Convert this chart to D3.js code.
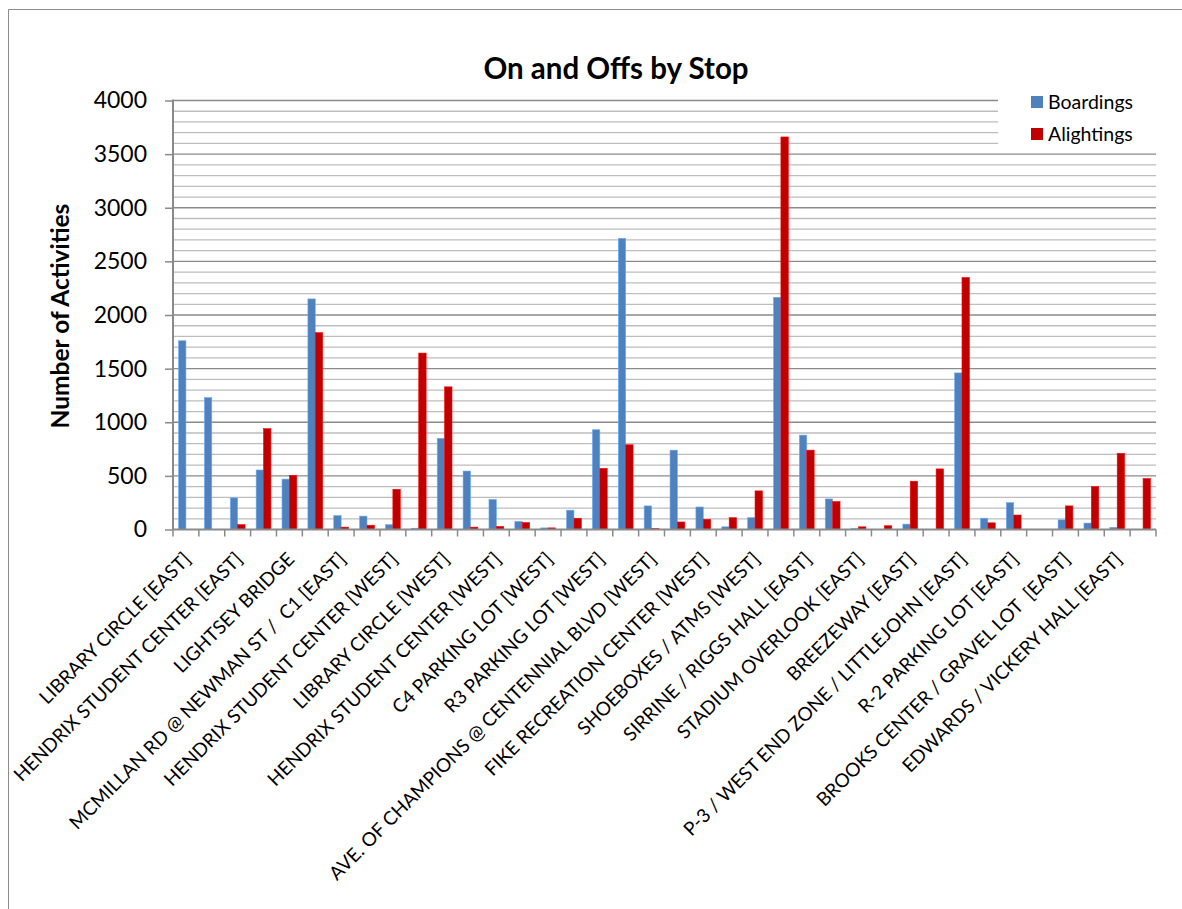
<!DOCTYPE html>
<html>
<head>
<meta charset="utf-8">
<script src="https://cdn.jsdelivr.net/npm/d3@7"></script>
<style>
  html, body { margin: 0; padding: 0; background: #fff; }
  svg { display: block; font-family: Lato, "Open Sans", sans-serif; }
  text { white-space: pre; }
</style>
</head>
<body>
<svg id="chart" width="1182" height="909"></svg>
<script>
// Stops along the route; only every other stop gets an axis label.
const categories = [
  "LIBRARY CIRCLE [EAST]", "",
  "HENDRIX STUDENT CENTER [EAST]", "",
  "LIGHTSEY BRIDGE", "",
  "MCMILLAN RD @ NEWMAN ST /  C1 [EAST]", "",
  "HENDRIX STUDENT CENTER [WEST]", "",
  "LIBRARY CIRCLE [WEST]", "",
  "HENDRIX STUDENT CENTER [WEST]", "",
  "C4 PARKING LOT [WEST]", "",
  "R3 PARKING LOT [WEST]", "",
  "AVE. OF CHAMPIONS @ CENTENNIAL BLVD [WEST]", "",
  "FIKE RECREATION CENTER [WEST]", "",
  "SHOEBOXES / ATMS [WEST]", "",
  "SIRRINE / RIGGS HALL [EAST]", "",
  "STADIUM OVERLOOK [EAST]", "",
  "BREEZEWAY [EAST]", "",
  "P-3 / WEST END ZONE / LITTLEJOHN [EAST]", "",
  "R-2 PARKING LOT [EAST]", "",
  "BROOKS CENTER / GRAVEL LOT  [EAST]", "",
  "EDWARDS / VICKERY HALL [EAST]", ""
];

const boardings = [
  1760, 1230, 295, 555, 470, 2150, 130, 125, 45, 12,
  850, 545, 280, 75, 15, 180, 930, 2715, 220, 740,
  210, 25, 110, 2165, 880, 285, 10, 0, 50, 0,
  1460, 105, 250, 0, 90, 60, 20, 0
];

const alightings = [
  0, 0, 45, 940, 505, 1835, 22, 40, 375, 1645,
  1330, 22, 28, 65, 15, 105, 570, 790, 10, 70,
  95, 110, 360, 3660, 740, 260, 25, 35, 450, 565,
  2350, 62, 135, 0, 220, 400, 710, 475
];

const seriesNames = ["Boardings", "Alightings"];
const seriesColors = ["#4F81BD", "#C00000"];
const yTicks = [0, 500, 1000, 1500, 2000, 2500, 3000, 3500, 4000];

const svg = d3.select("#chart");

const plot = { left: 173, right: 1156, top: 100.5, bottom: 529.5 };

const x0 = d3.scaleBand()
  .domain(d3.range(categories.length))
  .range([plot.left, plot.right])
  .paddingInner(0).paddingOuter(0);

const x1 = d3.scaleBand()
  .domain(seriesNames)
  .range([0, x0.bandwidth()])
  .paddingInner(0).paddingOuter(0.75);

const y = d3.scaleLinear().domain([0, 4000]).range([plot.bottom, plot.top]);

const color = d3.scaleOrdinal().domain(seriesNames).range(seriesColors);

// Outer chart frame
svg.append("path")
  .attr("d", "M8.5,909 V9.5 H1182")
  .attr("fill", "none")
  .attr("stroke", "#8c8c8c")
  .attr("stroke-width", 1);

// Gridlines: minor every 100, major every 500
const grid = svg.append("g");
grid.selectAll("line.minor")
  .data(d3.range(100, 4001, 100).filter(v => v % 500 !== 0))
  .join("line")
  .attr("x1", plot.left).attr("x2", plot.right)
  .attr("y1", d => y(d)).attr("y2", d => y(d))
  .attr("stroke", "#bdbdbd").attr("stroke-width", 1.3);
grid.selectAll("line.major")
  .data(yTicks.filter(v => v > 0))
  .join("line")
  .attr("x1", plot.left).attr("x2", plot.right)
  .attr("y1", d => y(d)).attr("y2", d => y(d))
  .attr("stroke", "#8a8a8a").attr("stroke-width", 1.3);

// Legend panel sits over the gridlines
const legend = svg.append("g");
legend.append("rect")
  .attr("x", 998).attr("y", 86).attr("width", 158).attr("height", 62)
  .attr("fill", "#fff");
seriesNames.forEach((name, i) => {
  const ly = 102 + i * 32;
  legend.append("rect")
    .attr("x", 1031).attr("y", ly - 6).attr("width", 12).attr("height", 12)
    .attr("fill", color(name));
  legend.append("text")
    .attr("x", 1048).attr("y", ly + 6.5)
    .attr("font-size", 19.5)
    .attr("fill", "#000")
    .text(name);
});

// Bars
const rows = categories.map((c, i) => ({ i, values: [boardings[i], alightings[i]] }));
svg.append("g")
  .selectAll("g")
  .data(rows)
  .join("g")
  .attr("transform", d => `translate(${x0(d.i)},0)`)
  .selectAll("rect")
  .data(d => d.values.map((v, k) => ({ name: seriesNames[k], v })))
  .join("rect")
  .attr("x", d => x1(d.name))
  .attr("width", x1.bandwidth())
  .attr("y", d => y(d.v))
  .attr("height", d => y(0) - y(d.v))
  .attr("fill", d => color(d.name))
  .attr("stroke", d => d3.color(color(d.name)).brighter(0.8))
  .attr("stroke-width", 0.6);

// Y axis
const yAxis = svg.append("g")
  .attr("transform", `translate(${plot.left},0)`)
  .call(d3.axisLeft(y).tickValues(yTicks).tickSize(8).tickPadding(18).tickFormat(d3.format("d")));
yAxis.select(".domain").attr("stroke", "#8a8a8a").attr("stroke-width", 2)
  .attr("d", `M0,${plot.bottom}V${plot.top - 1}`);
yAxis.selectAll(".tick line").attr("stroke", "#8a8a8a").attr("stroke-width", 1.5);
yAxis.selectAll(".tick text")
  .attr("font-size", 23).attr("font-family", "Lato, sans-serif").attr("fill", "#000");

// X axis: baseline plus tick marks at band boundaries
const xAxis = svg.append("g");
xAxis.append("line")
  .attr("x1", plot.left).attr("x2", plot.right)
  .attr("y1", y(0)).attr("y2", y(0))
  .attr("stroke", "#8a8a8a").attr("stroke-width", 2);
xAxis.selectAll("line.tick")
  .data(d3.range(categories.length + 1))
  .join("line")
  .attr("x1", i => i < categories.length ? x0(i) : plot.right)
  .attr("x2", i => i < categories.length ? x0(i) : plot.right)
  .attr("y1", y(0)).attr("y2", y(0) + 7)
  .attr("stroke", "#8a8a8a").attr("stroke-width", 1.5);

xAxis.selectAll("text.cat")
  .data(rows.filter(d => categories[d.i] !== ""))
  .join("text")
  .attr("transform", d => `translate(${x0(d.i) + x0.bandwidth() / 2 + 6},${y(0) + 31}) rotate(-45)`)
  .attr("text-anchor", "end")
  .attr("font-size", 19)
  .attr("fill", "#000")
  .text(d => categories[d.i]);

// Title and axis title
svg.append("text")
  .attr("x", 616).attr("y", 79)
  .attr("text-anchor", "middle")
  .attr("font-size", 29.5).attr("font-weight", "bold")
  .text("On and Offs by Stop");

svg.append("text")
  .attr("transform", "translate(69,316) rotate(-90)")
  .attr("text-anchor", "middle")
  .attr("font-size", 24.5).attr("font-weight", "bold")
  .text("Number of Activities");
</script>
</body>
</html>
